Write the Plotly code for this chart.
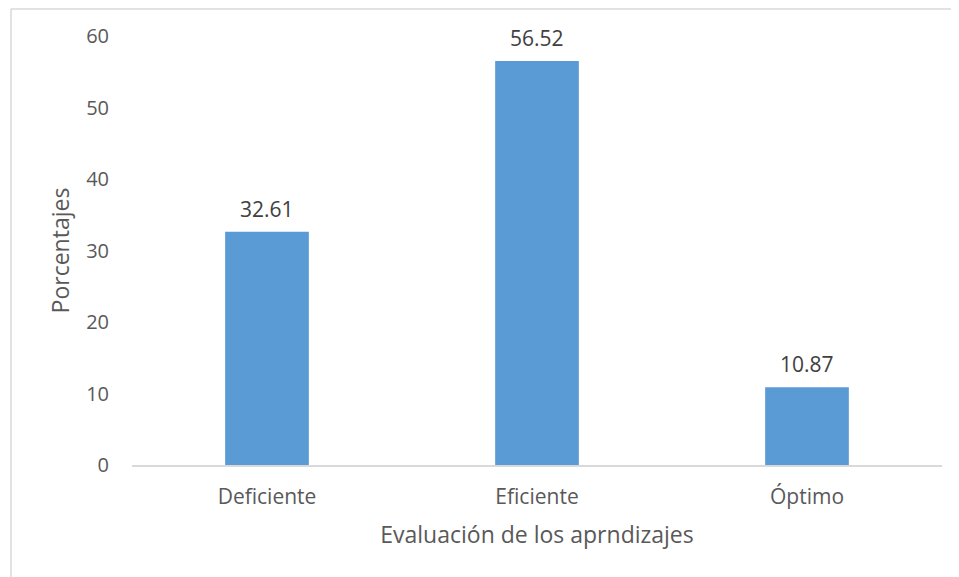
import plotly.graph_objects as go

categories = ["Deficiente", "Eficiente", "Óptimo"]
values = [32.61, 56.52, 10.87]
y_ticks = [0, 10, 20, 30, 40, 50, 60]

font_color = "#595959"
FONT = "Open Sans, Noto Sans, sans-serif"

fig = go.Figure(
    go.Bar(
        x=categories,
        y=values,
        marker=dict(color="#5B9BD5", line=dict(width=0)),
        width=0.31,
        hoverinfo="x+y",
    )
)

annotations = [
    dict(x=c, y=v, xref="x", yref="y", text=f"{v:.2f}", showarrow=False,
         yanchor="bottom", yshift=7, font=dict(size=21, color="#404040", family=FONT))
    for c, v in zip(categories, values)
]

# page body has an 8px offset; margins are chosen so the plot area lands at
# x 132..942, y 36..465 of the window
L, R, T, B = 124, 25, 28, 120
W, H = 959, 577
pw, ph = W - L - R, H - T - B

border = dict(color="#D9D9D9", width=1.5)
top_y = (H - B - 1) / ph
left_x = (3 - L) / pw
fig.update_layout(
    width=W,
    height=H,
    margin=dict(l=L, r=R, t=T, b=B),
    paper_bgcolor="white",
    plot_bgcolor="white",
    font=dict(family=FONT, color=font_color, size=20),
    showlegend=False,
    annotations=annotations,
    shapes=[
        dict(type="line", xref="paper", yref="paper",
             x0=left_x, x1=(W - L) / pw, y0=top_y, y1=top_y, line=border, layer="below"),
        dict(type="line", xref="paper", yref="paper",
             x0=left_x, x1=left_x, y0=top_y, y1=-(B + 5) / ph, line=border, layer="below"),
    ],
)

fig.update_xaxes(
    showline=True, linecolor="#D9D9D9", linewidth=1.5,
    showgrid=False, ticks="", tickfont=dict(size=21, color=font_color),
    ticklabelstandoff=12,
    title=dict(text="Evaluación de los aprndizajes", font=dict(size=23, color=font_color), standoff=18),
)
fig.update_yaxes(
    range=[0, 60], tickvals=y_ticks, showgrid=False, zeroline=False,
    showline=False, ticks="", tickfont=dict(size=20, color=font_color),
    ticklabelstandoff=22,
    title=dict(text="Porcentajes", font=dict(size=23, color=font_color), standoff=10),
)

fig.write_html("out.html")
